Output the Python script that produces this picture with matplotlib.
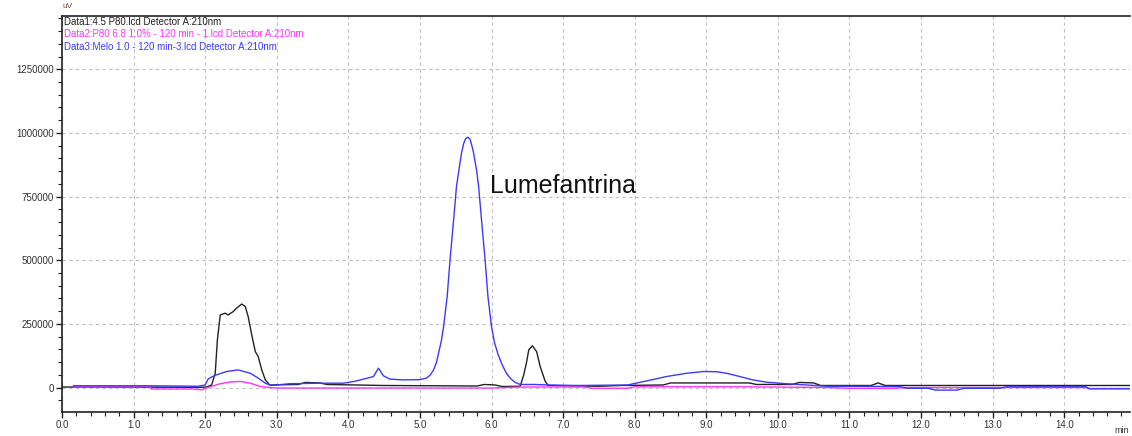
import matplotlib
matplotlib.use("Agg")
import matplotlib.pyplot as plt
from matplotlib.ticker import MultipleLocator, FuncFormatter

plt.rcParams['font.family'] = ['Liberation Sans', 'DejaVu Sans']

# ----------------------------
# Data (time in min, signal in uV)
# ----------------------------

data1_t = [0.0, 1.95, 2.02, 2.09, 2.14, 2.17, 2.21, 2.28, 2.32, 2.39, 2.44, 2.51,
           2.56, 2.60, 2.65, 2.70, 2.74, 2.79, 2.84, 2.90, 3.3, 3.4, 3.6, 3.7,
           4.5, 5.8, 5.9, 6.05, 6.15, 6.40, 6.45, 6.49, 6.52, 6.57, 6.63, 6.68,
           6.75, 6.79, 7.5, 7.8, 8.4, 8.5, 9.6, 9.7, 10.2, 10.3, 10.5, 10.6,
           11.3, 11.4, 11.5, 14.92]
data1_y = [2000, 1000, 2000, 10000, 56000, 187000, 285000, 292000, 285000, 298000,
           312000, 328000, 318000, 279000, 207000, 141000, 122000, 69000, 30000,
           10000, 12000, 20000, 18000, 12000, 8000, 6000, 12000, 10000, 4000, 5000,
           50000, 100000, 148000, 164000, 141000, 82000, 24000, 8000, 5000, 8000,
           10000, 18000, 18000, 12000, 12000, 20000, 18000, 8000, 8000, 18000,
           8000, 8000]

data2_t = [0.16, 1.23, 1.25, 1.83, 1.95, 2.04, 2.21, 2.35, 2.49, 2.63, 2.77, 2.9,
           3.0, 6.0, 6.4, 7.3, 7.4, 7.9, 8.0, 9.5, 10.7, 11.0, 11.6, 11.8, 14.3,
           14.35, 14.92]
data2_y = [3000, 3000, -6000, -6000, -9000, 0, 15000, 22000, 24000, 17000, 4000, 0,
           -2000, -2000, 2000, 2000, -3000, -3000, 3000, 3000, 0, -3000, -3000, 0,
           0, -4000, -4000]

data3_t = [0.16, 1.2, 1.9, 2.0, 2.04, 2.1, 2.16, 2.3, 2.46, 2.63, 2.74, 2.84, 2.92,
           3.18, 3.6, 3.93, 4.1, 4.21, 4.35, 4.42, 4.49, 4.58, 4.77, 5.0, 5.09,
           5.14, 5.19, 5.23, 5.26, 5.30, 5.33, 5.38, 5.42, 5.47, 5.51, 5.55, 5.58,
           5.61, 5.64, 5.67, 5.70, 5.73, 5.75, 5.79, 5.82, 5.86, 5.91, 5.95, 6.0,
           6.04, 6.09, 6.15, 6.21, 6.27, 6.33, 6.4, 6.6, 6.8, 7.2,
           7.9, 8.2, 8.44, 8.7, 8.96, 9.15, 9.3, 9.47, 9.65, 9.84, 10.12, 10.4,
           10.68, 11.0, 11.7, 11.8, 12.1, 12.2, 12.5, 12.6, 13.1, 13.2, 14.3, 14.35,
           14.92]
data3_y = [7000, 7000, 5000, 10000, 33000, 43000, 50000, 63000, 69000, 56000, 37000,
           17000, 8000, 15000, 17000, 17000, 25000, 33000, 43000, 76000, 46000,
           33000, 30000, 31000, 37000, 48000, 69000, 98000, 135000, 185000, 239000,
           357000, 501000, 658000, 789000, 865000, 920000, 958000, 978000, 983000,
           975000, 945000, 920000, 855000, 789000, 658000, 501000, 357000, 239000,
           178000, 131000, 88000, 55000, 34000, 20000, 12000, 12000, 10000, 8000,
           10000, 28000, 43000, 55000, 63000, 62000, 55000, 43000, 30000, 21000,
           15000, 10000, 5000, 5000, 4000, -3000, -3000, -10000, -10000, -3000,
           -3000, 3000, 3000, -5000, -5000]

series_labels = [
    "Data1:4.5 P80.lcd Detector A:210nm",
    "Data2:P80 6.8 1.0% - 120 min - 1.lcd Detector A:210nm",
    "Data3:Melo 1.0 - 120 min-3.lcd Detector A:210nm",
]
series_colors = ["#222222", "#ff33ff", "#3a3aff"]

peak_label = "Lumefantrina"
peak_label_pos = (5.98, 790000)

# ----------------------------
# Plot
# ----------------------------

fig = plt.figure(figsize=(11.32, 4.36), dpi=100)
ax = fig.add_axes([0.0548, 0.0557, 0.9435, 0.908])

ax.plot(data1_t, data1_y, color=series_colors[0], linewidth=1.0, zorder=3)
ax.plot(data2_t, data2_y, color=series_colors[1], linewidth=1.0, zorder=3)
ax.plot(data3_t, data3_y, color=series_colors[2], linewidth=1.0, zorder=3)

ax.set_xlim(0, 14.92)
ax.set_ylim(-95000, 1460000)

ax.xaxis.set_major_locator(MultipleLocator(1.0))
ax.xaxis.set_minor_locator(MultipleLocator(0.2))
ax.yaxis.set_major_locator(MultipleLocator(250000))
ax.yaxis.set_minor_locator(MultipleLocator(50000))
ax.xaxis.set_major_formatter(FuncFormatter(lambda v, p: f"{v:.1f}"))
ax.yaxis.set_major_formatter(FuncFormatter(lambda v, p: f"{int(round(v))}"))

ax.tick_params(axis="both", which="major", direction="out", length=4, width=1,
               labelsize=7, labelcolor="#333333", color="#222222", pad=2)
ax.tick_params(axis="both", which="minor", direction="out", length=3, width=0.8,
               color="#222222")

ax.grid(True, which="major", color="#c0c0c0", linestyle=(0, (3, 3)), linewidth=0.8)
ax.set_axisbelow(True)

ax.spines["right"].set_visible(False)
for s in ("left", "bottom", "top"):
    ax.spines[s].set_linewidth(1.2)
    ax.spines[s].set_color("#222222")

# detector/file labels in the top-left corner
for i, (lab, col) in enumerate(zip(series_labels, series_colors)):
    ax.text(0.002, 0.985 - i * 0.032, lab, transform=ax.transAxes, fontsize=7,
            color=col, ha="left", va="center")

ax.text(peak_label_pos[0], peak_label_pos[1], peak_label, fontsize=18,
        color="#111111", ha="left", va="center")

fig.text(0.0548, 0.985, "uV", fontsize=6, color="#6b4a2a", ha="left", va="center")
fig.text(0.997, 0.013, "min", fontsize=6.5, color="#333333", ha="right", va="center")

fig.savefig("out.png", dpi=100)
